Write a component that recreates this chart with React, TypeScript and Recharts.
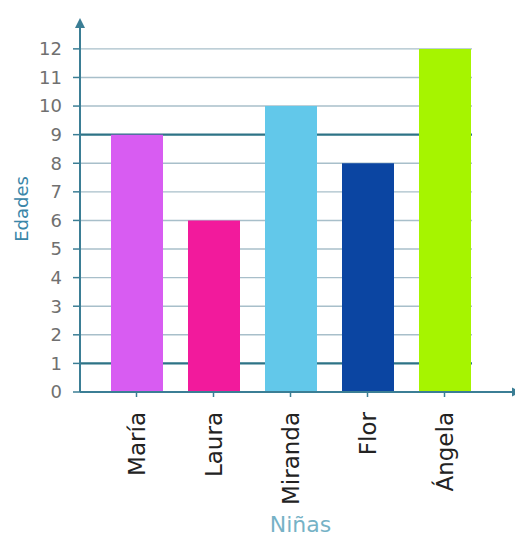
import React from 'react';
import { BarChart, Bar, XAxis, YAxis, CartesianGrid, Cell, Label, ReferenceLine } from 'recharts';

const categories = ['María', 'Laura', 'Miranda', 'Flor', 'Ángela'];
const ages = [9, 6, 10, 8, 12];
const barColors = ['#d85cf2', '#f21a9c', '#62c8ea', '#0b45a2', '#a6f400'];
const yTicks = [0, 1, 2, 3, 4, 5, 6, 7, 8, 9, 10, 11, 12];
const strongLines = [1, 9];

const data = categories.map((name, i) => ({ name, edad: ages[i] }));

const AXIS = '#3b7e95';
const FONT = "'DejaVu Sans', sans-serif";

const GridLine = (props: any) => {
  const { x1, x2, y1, y2, index } = props;
  if (index >= yTicks.length) return <g key={props.key} />;
  const value = yTicks[index];
  const strong = strongLines.includes(value);
  return (
    <line
      key={props.key}
      x1={x1}
      x2={x2 - 49}
      y1={y1}
      y2={y2}
      stroke={strong ? '#2d7386' : '#a8bfca'}
      strokeWidth={strong ? 2.2 : 1.4}
    />
  );
};

const XTick = (props: any) => {
  const { x, y, payload } = props;
  return (
    <text
      x={0}
      y={0}
      transform={`translate(${x},${y + 13}) rotate(-90)`}
      textAnchor="end"
      dy="0.36em"
      fill="#222"
      fontSize={23}
      fontFamily={FONT}
    >
      {payload.value}
    </text>
  );
};

const ArrowAxisLine = (props: any) => {
  const { x1, y1, x2, y2 } = props;
  const left = Math.min(x1, x2);
  const right = Math.max(x1, x2);
  return (
    <g>
      <line x1={left} y1={y1} x2={right - 4} y2={y2} stroke={AXIS} strokeWidth={2} />
      <path d={`M${right},${y1} L${right - 9},${y1 - 4.5} L${right - 9},${y1 + 4.5} Z`} fill={AXIS} />
    </g>
  );
};

export default function App() {
  return (
    <div style={{ width: 515, height: 533, background: '#fff' }}>
      <svg width={0} height={0} style={{ position: 'absolute' }}>
        <defs>
          <marker id="arrowHead" viewBox="0 0 10 10" refX="2" refY="5" markerWidth="5" markerHeight="5" markerUnits="strokeWidth" orient="auto-start-reverse">
            <path d="M0,0 L10,5 L0,10 z" fill={AXIS} />
          </marker>
        </defs>
      </svg>
      <BarChart width={515} height={533} data={data} margin={{ top: 18, right: 2, bottom: 9, left: 0 }}>
        <CartesianGrid vertical={false} horizontal={GridLine as any} />
        <XAxis
          dataKey="name"
          height={140}
          padding={{ left: 18, right: 38 }}
          axisLine={false}
          tickLine={{ stroke: AXIS, strokeWidth: 1.5 }}
          tickSize={5}
          tick={<XTick />}
          interval={0}
        >
          <Label
            value="Niñas"
            position="insideBottom"
            offset={0}
            fill="#76b2c6"
            fontSize={22}
            fontFamily={FONT}
          />
        </XAxis>
        <YAxis
          width={72}
          domain={[0, 12.8]}
          ticks={yTicks}
          interval={0}
          axisLine={{ stroke: AXIS, strokeWidth: 2, markerStart: 'url(#arrowHead)' } as any}
          tickLine={{ stroke: AXIS, strokeWidth: 1.5 }}
          tickSize={7}
          tickMargin={11}
          tick={{ fill: '#707070', fontSize: 18, fontFamily: FONT }}
        >
          <Label
            value="Edades"
            angle={-90}
            position="insideLeft"
            offset={14}
            fill="#3a86a8"
            fontSize={18}
            fontFamily={FONT}
            style={{ textAnchor: 'middle' }}
          />
        </YAxis>
        <Bar dataKey="edad" barSize={52} isAnimationActive={false}>
          {data.map((d, i) => (
            <Cell key={d.name} fill={barColors[i]} />
          ))}
        </Bar>
        <ReferenceLine y={0} ifOverflow="visible" shape={ArrowAxisLine as any} />
      </BarChart>
    </div>
  );
}
